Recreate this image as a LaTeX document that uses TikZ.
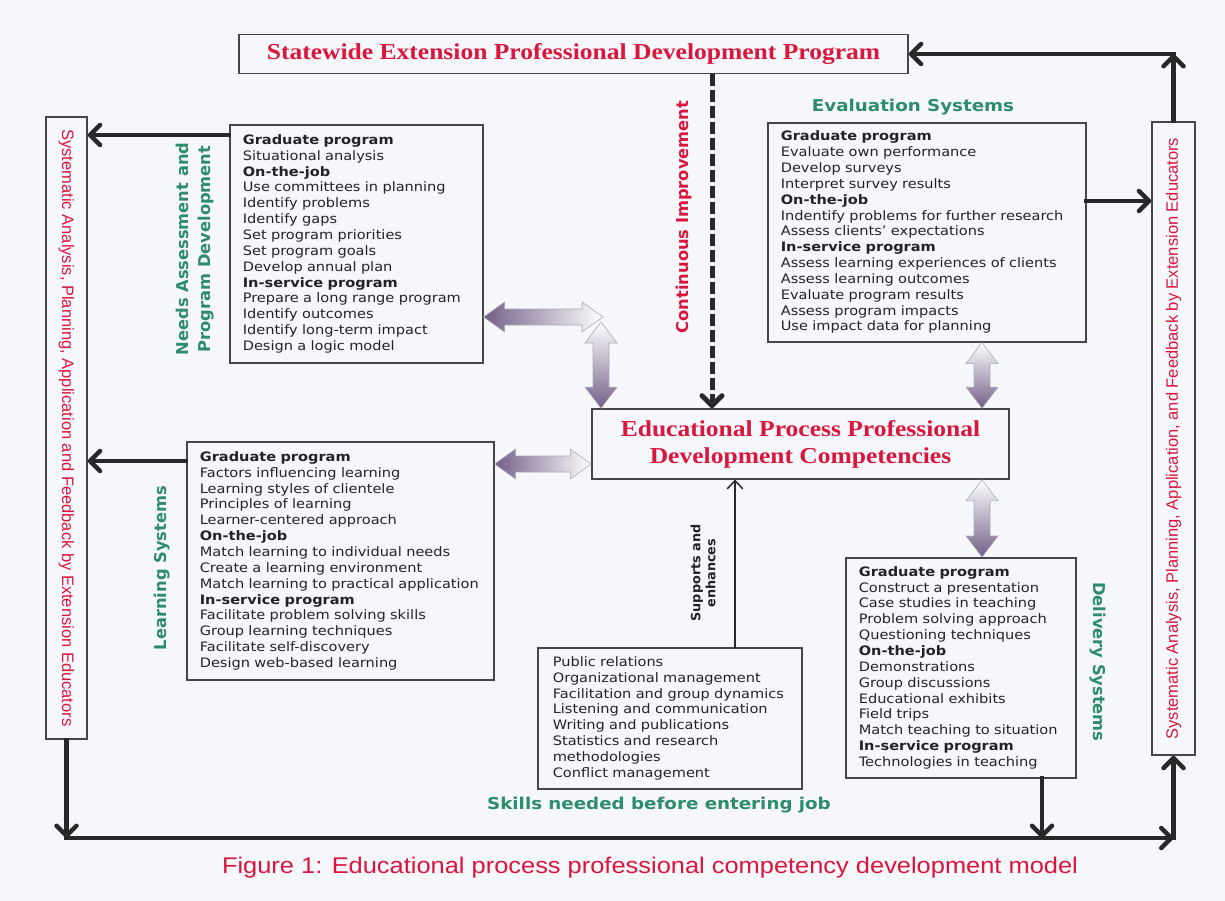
\documentclass[tikz,border=0pt]{standalone}
\usepackage{fontspec}
\usetikzlibrary{arrows.meta,calc}
\setmainfont{DejaVu Sans}[FakeStretch=1.12]
\newfontfamily\serifhead{Liberation Serif}[FakeStretch=1.12]
\newfontfamily\capsans{Liberation Sans}[FakeStretch=1.12]
\newfontfamily\railsans{Liberation Sans}
\newfontfamily\sidesans{DejaVu Sans}

\begin{document}
\begin{tikzpicture}[x=1pt,y=-1pt,line cap=rect,
  listbox/.style={draw=boxgray, line width=1.6pt, anchor=north west, inner xsep=13pt, inner ysep=0pt,
    align=left, text=inkgray, font=\fontsize{13pt}{15.85pt}\selectfont},
  headbox/.style={draw=boxgray, line width=1.6pt, align=center, text=headred,
    font=\serifhead\bfseries\fontsize{22.8pt}{27pt}\selectfont},
  railbox/.style={draw=boxgray, line width=1.6pt},
  railtext/.style={text=headred, font=\railsans\fontsize{16.5pt}{18pt}\selectfont},
  rotlabel/.style={text=sysgreen, align=center, font=\sidesans\bfseries\fontsize{16.3pt}{22pt}\selectfont},
  flatlabel/.style={text=sysgreen, font=\bfseries\fontsize{16.3pt}{20pt}\selectfont},
  flow/.style={draw=linegray, line width=4.5pt, -{Straight Barb[length=10pt,width=20pt,round]}},
  dashflow/.style={flow, line width=5pt, line cap=butt, dash pattern=on 12pt off 4pt},
  thinflow/.style={draw=linegray, line width=1.5pt, -{Straight Barb[length=8pt,width=15pt,round]}},
  fatarrow/.style={draw=fatedge, line width=0.6pt, line join=miter}]
\useasboundingbox (0,0) rectangle (1225,901);
\definecolor{pagebg}{RGB}{246, 247, 251}
\definecolor{boxgray}{RGB}{70, 70, 74}
\definecolor{linegray}{RGB}{40, 40, 42}
\definecolor{inkgray}{RGB}{35, 35, 38}
\definecolor{headred}{RGB}{218, 22, 60}
\definecolor{sysgreen}{RGB}{44, 140, 108}
\definecolor{arrowdark}{RGB}{115, 95, 135}
\definecolor{fatedge}{RGB}{175, 170, 185}
\def\fatharrow#1#2{% dark head at #1, pale head at #2
  \shadedraw[fatarrow, left color=arrowdark, middle color=arrowdark!55!white, right color=white]
    let \p1=(#1), \p2=(#2) in
    (\x1,\y1) -- (\x1+21pt,\y1+15pt) -- (\x1+21pt,\y1+8pt) -- (\x2-21pt,\y1+8pt) -- (\x2-21pt,\y1+15pt)
    -- (\x2,\y1) -- (\x2-21pt,\y1-15pt) -- (\x2-21pt,\y1-8pt) -- (\x1+21pt,\y1-8pt) -- (\x1+21pt,\y1-15pt) -- cycle;}
\def\fatvarrow#1#2{% pale head at #1 (top), dark head at #2 (bottom)
  \shadedraw[fatarrow, top color=white, middle color=arrowdark!55!white, bottom color=arrowdark]
    let \p1=(#1), \p2=(#2) in
    (\x1,\y1) -- (\x1+16pt,\y1-21pt) -- (\x1+8pt,\y1-21pt) -- (\x1+8pt,\y2+21pt) -- (\x1+16pt,\y2+21pt)
    -- (\x1,\y2) -- (\x1-16pt,\y2+21pt) -- (\x1-8pt,\y2+21pt) -- (\x1-8pt,\y1-21pt) -- (\x1-16pt,\y1-21pt) -- cycle;}
\fill[pagebg] (0,0) rectangle (1225,901);

% title boxes
\node[headbox, minimum width=669, minimum height=39] (state) at (573.5,54) {Statewide Extension Professional Development Program};
\node[headbox, minimum width=417, minimum height=70] (core) at (800.5,444) {Educational Process Professional\\Development Competencies};

% side rails
\node[railbox, minimum width=41, minimum height=622] (lrail) at (66.5,428) {};
\node[railtext, rotate=-90] (ltext) at (lrail.center) {Systematic Analysis, Planning, Application and Feedback by Extension Educators};
\node[railbox, minimum width=43, minimum height=633] (rrail) at (1173.5,438.5) {};
\node[railtext, rotate=90] (rtext) at (rrail.center) {Systematic Analysis, Planning, Application, and Feedback by Extension Educators};

% competency lists
\node[listbox, text width=227, minimum height=238] (needs) at (229,124) {\textbf{Graduate program}\\Situational analysis\\\textbf{On-the-job}\\Use committees in planning\\Identify problems\\Identify gaps\\Set program priorities\\Set program goals\\Develop annual plan\\\textbf{In-service program}\\Prepare a long range program\\Identify outcomes\\Identify long-term impact\\Design a logic model};
\node[listbox, text width=292, minimum height=219] (eval) at (767,122) {\textbf{Graduate program}\\Evaluate own performance\\Develop surveys\\Interpret survey results\\\textbf{On-the-job}\\Indentify problems for further research\\Assess clients’ expectations\\\textbf{In-service program}\\Assess learning experiences of clients\\Assess learning outcomes\\Evaluate program results\\Assess program impacts\\Use impact data for planning};
\node[listbox, text width=281, minimum height=238] (learn) at (186,441) {\textbf{Graduate program}\\Factors influencing learning\\Learning styles of clientele\\Principles of learning\\Learner-centered approach\\\textbf{On-the-job}\\Match learning to individual needs\\Create a learning environment\\Match learning to practical application\\\textbf{In-service program}\\Facilitate problem solving skills\\Group learning techniques\\Facilitate self-discovery\\Design web-based learning};
\node[listbox, inner xsep=15pt, text width=234, minimum height=141] (skills) at (537,647) {Public relations\\Organizational management\\Facilitation and group dynamics\\Listening and communication\\Writing and publications\\Statistics and research\\methodologies\\Conflict management};
\node[listbox, text width=204, minimum height=220] (delivery) at (845,557) {\textbf{Graduate program}\\Construct a presentation\\Case studies in teaching\\Problem solving approach\\Questioning techniques\\\textbf{On-the-job}\\Demonstrations\\Group discussions\\Educational exhibits\\Field trips\\Match teaching to situation\\\textbf{In-service program}\\Technologies in teaching};

% labels
\node[rotlabel, rotate=90] (needslbl) at (195,249) {Needs Assessment and\\Program Development};
\node[flatlabel] (evallbl) at (913,107) {Evaluation Systems};
\node[rotlabel, rotate=90] (learnlbl) at (162,568) {Learning Systems};
\node[rotlabel, rotate=-90] (delivlbl) at (1098,662) {Delivery Systems};
\node[flatlabel] (skillslbl) at (659,805) {Skills needed before entering job};
\node[rotlabel, text=headred, rotate=90] (improve) at (684,217) {Continuous Improvement};
\node[rotlabel, text=inkgray, font=\sidesans\bfseries\fontsize{12.8pt}{15pt}\selectfont, rotate=90] (supports) at (703,573) {Supports and\\enhances};
\node[text=headred, font=\capsans\fontsize{22.7pt}{26pt}\selectfont] (caption) at (650,868) {Figure 1: Educational process professional competency development model};

% loop points
\coordinate (topbend) at (1173.5,54);
\coordinate (lowleft) at (66.5,838);
\coordinate (lowright) at (1173.5,838);
\coordinate (dropend) at (1042,838);
\coordinate (elbow) at (603,317);

% feedback loop
\draw[flow] (rrail.north) -- (topbend);
\draw[flow] (topbend) -- (state.east);
\draw[flow] (needs.west |- 0,135) -- (lrail.east |- 0,135);
\draw[flow] (learn.west |- 0,461) -- (lrail.east |- 0,461);
\draw[flow] (eval.east |- 0,201) -- (rrail.west |- 0,201);
\draw[flow] (delivery.south -| dropend) -- (dropend);
\draw[flow] (lrail.south) -- (lowleft);
\draw[flow] (lowleft) -- (lowright);
\draw[flow] (lowright) -- (rrail.south);
\draw[dashflow] (state.south -| 712,0) -- (core.north -| 712,0);
\draw[thinflow] (skills.north -| 735,0) -- (core.south -| 735,0);

% two-way links to the core
\fatharrow{needs.east |- elbow}{elbow}
\fatvarrow{[shift={(-2,5)}]elbow}{core.north -| 601,0}
\fatharrow{learn.east |- 0,464}{core.west |- 0,464}
\fatvarrow{eval.south -| 982,0}{core.north -| 982,0}
\fatvarrow{core.south -| 982,0}{delivery.north -| 982,0}
\end{tikzpicture}
\end{document}
